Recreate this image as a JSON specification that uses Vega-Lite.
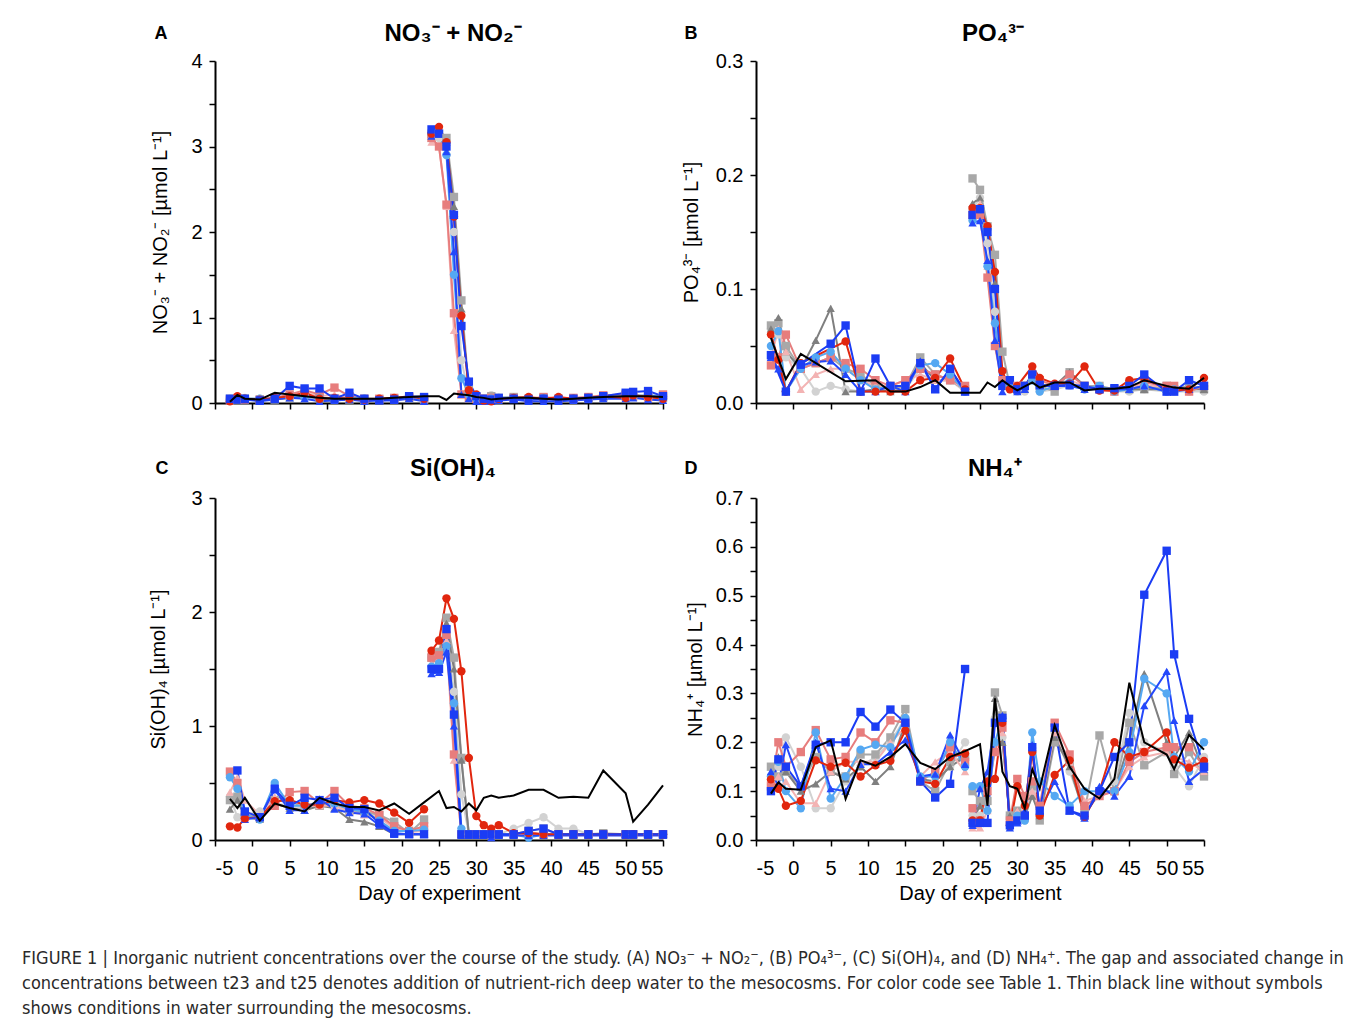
{
"$schema": "https://vega.github.io/schema/vega-lite/v6.json",
"background": "white",
"padding": {"left": 22, "top": 22, "right": 10, "bottom": 8},
"config": {
  "font": "Liberation Sans",
  "view": {"stroke": null},
  "axis": {"domainColor": "black", "domainWidth": 2, "tickColor": "black", "tickWidth": 1.5, "tickSize": 6, "labelFont": "Liberation Sans", "labelFontSize": 20, "labelColor": "black", "titleFont": "Liberation Sans", "titleFontSize": 20, "titleFontWeight": "normal", "titleColor": "black", "grid": false, "labelPadding": 7},
  "title": {"font": "Liberation Sans", "fontSize": 24, "fontWeight": "bold", "color": "black"}
},
"title": {"text": ["FIGURE 1 | Inorganic nutrient concentrations over the course of the study. (A) NO₃⁻ + NO₂⁻, (B) PO₄³⁻, (C) Si(OH)₄, and (D) NH₄⁺. The gap and associated change in", "concentrations between t23 and t25 denotes addition of nutrient-rich deep water to the mesocosms. For color code see Table 1. Thin black line without symbols", "shows conditions in water surrounding the mesocosms."], "orient": "bottom", "anchor": "start", "frame": "group", "dx": -193, "offset": 47, "font": "DejaVu Sans Condensed, sans-serif", "fontSize": 18, "fontWeight": "normal", "lineHeight": 25, "color": "#2a2a2a"},
"data": {"values": [
{"p":"A","d":-3,"ph":1,"LG":0.05,"G":0.05,"DG":0.04,"PK":0.04,"SA":0.03,"LB":0.04,"BT":0.03,"R":0.02,"B":0.05,"S":0.015},
{"p":"A","d":-2,"ph":1,"LG":0.05,"G":0.04,"DG":0.04,"PK":0.05,"SA":0.05,"LB":0.06,"BT":0.05,"R":0.08,"B":0.04,"S":0.094},
{"p":"A","d":-1,"ph":1,"LG":0.06,"G":0.05,"DG":0.04,"PK":0.04,"SA":0.04,"LB":0.05,"BT":0.04,"R":0.05,"B":0.05,"S":0.05},
{"p":"A","d":1,"ph":1,"LG":0.05,"G":0.04,"DG":0.04,"PK":0.04,"SA":0.04,"LB":0.05,"BT":0.02,"R":0.04,"B":0.03,"S":0.04},
{"p":"A","d":3,"ph":1,"LG":0.05,"G":0.04,"DG":0.04,"PK":0.06,"SA":0.06,"LB":0.05,"BT":0.04,"R":0.06,"B":0.05,"S":0.12},
{"p":"A","d":5,"ph":1,"LG":0.1,"G":0.08,"DG":0.06,"PK":0.08,"SA":0.1,"LB":0.08,"BT":0.06,"R":0.08,"B":0.2,"S":0.1},
{"p":"A","d":7,"ph":1,"LG":0.08,"G":0.1,"DG":0.08,"PK":0.12,"SA":0.15,"LB":0.07,"BT":0.05,"R":0.12,"B":0.17,"S":0.08},
{"p":"A","d":9,"ph":1,"LG":0.06,"G":0.06,"DG":0.05,"PK":0.08,"SA":0.1,"LB":0.06,"BT":0.02,"R":0.05,"B":0.17,"S":0.06},
{"p":"A","d":11,"ph":1,"LG":0.05,"G":0.05,"DG":0.04,"PK":0.1,"SA":0.18,"LB":0.05,"BT":0.03,"R":0.06,"B":0.05,"S":0.05},
{"p":"A","d":13,"ph":1,"LG":0.05,"G":0.04,"DG":0.04,"PK":0.06,"SA":0.08,"LB":0.06,"BT":0.04,"R":0.05,"B":0.12,"S":0.05},
{"p":"A","d":15,"ph":1,"LG":0.05,"G":0.04,"DG":0.04,"PK":0.04,"SA":0.05,"LB":0.05,"BT":0.02,"R":0.04,"B":0.05,"S":0.05},
{"p":"A","d":17,"ph":1,"LG":0.05,"G":0.04,"DG":0.04,"PK":0.05,"SA":0.05,"LB":0.04,"BT":0.03,"R":0.05,"B":0.03,"S":0.05},
{"p":"A","d":19,"ph":1,"LG":0.05,"G":0.05,"DG":0.04,"PK":0.05,"SA":0.06,"LB":0.05,"BT":0.03,"R":0.06,"B":0.04,"S":0.06},
{"p":"A","d":21,"ph":1,"LG":0.06,"G":0.06,"DG":0.05,"PK":0.07,"SA":0.07,"LB":0.06,"BT":0.05,"R":0.08,"B":0.08,"S":0.07},
{"p":"A","d":23,"ph":1,"LG":0.05,"G":0.04,"DG":0.04,"PK":0.05,"SA":0.05,"LB":0.04,"BT":0.02,"R":0.05,"B":0.07,"S":0.08},
{"p":"A","d":24,"ph":2,"LG":3.1,"G":3.15,"DG":3.1,"PK":3.05,"SA":3.1,"LB":3.15,"BT":3.12,"R":3.15,"B":3.2,"S":null},
{"p":"A","d":25,"ph":2,"LG":3.1,"G":3.15,"DG":3.15,"PK":3.0,"SA":3.0,"LB":3.15,"BT":3.18,"R":3.23,"B":3.15,"S":0.08},
{"p":"A","d":26,"ph":2,"LG":2.9,"G":3.1,"DG":3.05,"PK":2.3,"SA":2.32,"LB":2.9,"BT":2.94,"R":3.05,"B":3.0,"S":0.035},
{"p":"A","d":27,"ph":2,"LG":2.0,"G":2.41,"DG":2.3,"PK":0.85,"SA":1.05,"LB":1.5,"BT":1.77,"R":2.18,"B":2.2,"S":0.11},
{"p":"A","d":28,"ph":2,"LG":0.5,"G":1.2,"DG":1.1,"PK":0.1,"SA":0.1,"LB":0.29,"BT":0.1,"R":1.02,"B":0.9,"S":0.1},
{"p":"A","d":29,"ph":2,"LG":0.1,"G":0.15,"DG":0.1,"PK":0.05,"SA":0.06,"LB":0.1,"BT":0.05,"R":0.15,"B":0.25,"S":0.09},
{"p":"A","d":30,"ph":2,"LG":0.06,"G":0.07,"DG":0.05,"PK":0.04,"SA":0.05,"LB":0.05,"BT":0.02,"R":0.1,"B":0.08,"S":0.07},
{"p":"A","d":31,"ph":2,"LG":0.05,"G":0.05,"DG":0.04,"PK":0.04,"SA":0.05,"LB":0.04,"BT":0.02,"R":0.03,"B":0.05,"S":0.06},
{"p":"A","d":32,"ph":2,"LG":0.09,"G":0.08,"DG":0.05,"PK":0.05,"SA":0.06,"LB":0.05,"BT":0.02,"R":0.02,"B":0.04,"S":0.04},
{"p":"A","d":33,"ph":2,"LG":0.06,"G":0.06,"DG":0.05,"PK":0.05,"SA":0.05,"LB":0.06,"BT":0.03,"R":0.05,"B":0.06,"S":0.05},
{"p":"A","d":35,"ph":2,"LG":0.06,"G":0.07,"DG":0.05,"PK":0.05,"SA":0.06,"LB":0.06,"BT":0.04,"R":0.06,"B":0.05,"S":0.06},
{"p":"A","d":37,"ph":2,"LG":0.05,"G":0.05,"DG":0.04,"PK":0.05,"SA":0.05,"LB":0.05,"BT":0.02,"R":0.07,"B":0.04,"S":0.06},
{"p":"A","d":39,"ph":2,"LG":0.06,"G":0.06,"DG":0.05,"PK":0.05,"SA":0.07,"LB":0.06,"BT":0.02,"R":0.05,"B":0.05,"S":0.05},
{"p":"A","d":41,"ph":2,"LG":0.05,"G":0.05,"DG":0.04,"PK":0.05,"SA":0.05,"LB":0.05,"BT":0.02,"R":0.07,"B":0.04,"S":0.04},
{"p":"A","d":43,"ph":2,"LG":0.05,"G":0.05,"DG":0.05,"PK":0.05,"SA":0.06,"LB":0.05,"BT":0.03,"R":0.05,"B":0.05,"S":0.05},
{"p":"A","d":45,"ph":2,"LG":0.06,"G":0.06,"DG":0.05,"PK":0.06,"SA":0.07,"LB":0.06,"BT":0.04,"R":0.06,"B":0.06,"S":0.06},
{"p":"A","d":47,"ph":2,"LG":0.07,"G":0.07,"DG":0.06,"PK":0.07,"SA":0.09,"LB":0.07,"BT":0.05,"R":0.08,"B":0.08,"S":0.07},
{"p":"A","d":50,"ph":2,"LG":0.07,"G":0.09,"DG":0.07,"PK":0.07,"SA":0.1,"LB":0.08,"BT":0.05,"R":0.06,"B":0.12,"S":0.08},
{"p":"A","d":51,"ph":2,"LG":0.08,"G":0.1,"DG":0.07,"PK":0.07,"SA":0.08,"LB":0.08,"BT":0.06,"R":0.09,"B":0.13,"S":0.08},
{"p":"A","d":53,"ph":2,"LG":0.07,"G":0.08,"DG":0.06,"PK":0.06,"SA":0.07,"LB":0.09,"BT":0.04,"R":0.07,"B":0.14,"S":0.08},
{"p":"A","d":55,"ph":2,"LG":0.06,"G":0.06,"DG":0.05,"PK":0.06,"SA":0.1,"LB":0.08,"BT":0.03,"R":0.05,"B":0.08,"S":0.07},
{"p":"B","d":-3,"ph":1,"LG":0.065,"G":0.068,"DG":0.065,"PK":0.04,"SA":0.033,"LB":0.05,"BT":0.04,"R":0.06,"B":0.042,"S":0.057},
{"p":"B","d":-2,"ph":1,"LG":0.06,"G":0.07,"DG":0.075,"PK":0.065,"SA":0.04,"LB":0.063,"BT":0.03,"R":0.038,"B":null,"S":null},
{"p":"B","d":-1,"ph":1,"LG":0.04,"G":0.05,"DG":0.045,"PK":0.045,"SA":0.06,"LB":0.01,"BT":0.01,"R":0.01,"B":0.01,"S":0.021},
{"p":"B","d":1,"ph":1,"LG":0.03,"G":0.03,"DG":0.03,"PK":0.012,"SA":0.03,"LB":0.03,"BT":0.033,"R":0.035,"B":0.034,"S":0.043},
{"p":"B","d":3,"ph":1,"LG":0.01,"G":0.035,"DG":0.055,"PK":0.025,"SA":0.035,"LB":0.04,"BT":0.036,"R":null,"B":null,"S":null},
{"p":"B","d":5,"ph":1,"LG":0.015,"G":0.04,"DG":0.083,"PK":0.03,"SA":0.04,"LB":0.045,"BT":0.037,"R":null,"B":0.052,"S":null},
{"p":"B","d":7,"ph":1,"LG":0.012,"G":0.03,"DG":0.01,"PK":0.03,"SA":0.035,"LB":0.03,"BT":0.025,"R":0.054,"B":0.068,"S":0.019},
{"p":"B","d":9,"ph":1,"LG":0.01,"G":0.025,"DG":0.01,"PK":0.02,"SA":0.03,"LB":0.02,"BT":0.01,"R":0.01,"B":0.01,"S":null},
{"p":"B","d":11,"ph":1,"LG":0.012,"G":0.015,"DG":0.012,"PK":0.015,"SA":0.02,"LB":0.012,"BT":0.01,"R":0.01,"B":0.039,"S":0.02},
{"p":"B","d":13,"ph":1,"LG":0.012,"G":0.012,"DG":0.01,"PK":0.015,"SA":0.015,"LB":0.015,"BT":0.015,"R":0.01,"B":0.015,"S":0.01},
{"p":"B","d":15,"ph":1,"LG":0.012,"G":0.015,"DG":0.012,"PK":0.02,"SA":0.02,"LB":0.015,"BT":0.01,"R":0.01,"B":0.015,"S":0.01},
{"p":"B","d":17,"ph":1,"LG":0.03,"G":0.04,"DG":0.035,"PK":0.025,"SA":0.03,"LB":0.033,"BT":0.037,"R":0.02,"B":0.035,"S":0.014},
{"p":"B","d":19,"ph":1,"LG":0.025,"G":0.025,"DG":0.02,"PK":0.02,"SA":0.025,"LB":0.035,"BT":0.012,"R":0.022,"B":0.012,"S":0.02},
{"p":"B","d":21,"ph":1,"LG":0.02,"G":0.02,"DG":0.02,"PK":0.02,"SA":0.02,"LB":0.025,"BT":0.03,"R":0.039,"B":0.03,"S":0.009},
{"p":"B","d":23,"ph":1,"LG":0.01,"G":0.012,"DG":0.012,"PK":0.012,"SA":0.015,"LB":0.01,"BT":0.01,"R":0.012,"B":0.01,"S":0.009},
{"p":"B","d":24,"ph":2,"LG":0.17,"G":0.197,"DG":0.175,"PK":0.17,"SA":0.165,"LB":0.16,"BT":0.158,"R":0.171,"B":0.165,"S":null},
{"p":"B","d":25,"ph":2,"LG":0.18,"G":0.187,"DG":0.18,"PK":0.175,"SA":0.165,"LB":0.17,"BT":0.16,"R":0.171,"B":0.17,"S":0.009},
{"p":"B","d":26,"ph":2,"LG":0.14,"G":0.155,"DG":0.15,"PK":0.12,"SA":0.11,"LB":0.12,"BT":0.125,"R":0.155,"B":0.15,"S":0.018},
{"p":"B","d":27,"ph":2,"LG":0.08,"G":0.13,"DG":0.105,"PK":0.05,"SA":0.05,"LB":0.07,"BT":0.055,"R":0.115,"B":0.1,"S":0.014},
{"p":"B","d":28,"ph":2,"LG":0.015,"G":0.045,"DG":0.02,"PK":0.015,"SA":0.02,"LB":0.015,"BT":0.01,"R":0.028,"B":0.015,"S":0.02},
{"p":"B","d":29,"ph":2,"LG":0.012,"G":0.015,"DG":0.015,"PK":0.02,"SA":0.015,"LB":0.015,"BT":0.02,"R":0.012,"B":0.02,"S":0.015},
{"p":"B","d":30,"ph":2,"LG":0.01,"G":0.012,"DG":0.012,"PK":0.015,"SA":0.015,"LB":0.012,"BT":0.01,"R":0.015,"B":0.012,"S":0.011},
{"p":"B","d":31,"ph":2,"LG":0.01,"G":0.015,"DG":0.012,"PK":0.015,"SA":0.015,"LB":0.015,"BT":0.012,"R":null,"B":0.015,"S":null},
{"p":"B","d":32,"ph":2,"LG":0.025,"G":0.02,"DG":0.02,"PK":0.02,"SA":0.025,"LB":0.02,"BT":0.025,"R":0.032,"B":0.025,"S":0.018},
{"p":"B","d":33,"ph":2,"LG":0.01,"G":0.015,"DG":0.015,"PK":0.015,"SA":0.02,"LB":0.01,"BT":0.015,"R":0.022,"B":0.016,"S":0.0135},
{"p":"B","d":35,"ph":2,"LG":0.012,"G":0.01,"DG":0.015,"PK":0.015,"SA":0.015,"LB":0.015,"BT":0.015,"R":0.017,"B":0.015,"S":0.018},
{"p":"B","d":37,"ph":2,"LG":0.015,"G":0.027,"DG":0.027,"PK":0.02,"SA":0.025,"LB":0.018,"BT":0.015,"R":0.017,"B":0.016,"S":0.018},
{"p":"B","d":39,"ph":2,"LG":0.012,"G":0.015,"DG":0.015,"PK":0.015,"SA":0.015,"LB":0.012,"BT":0.012,"R":0.032,"B":0.015,"S":0.011},
{"p":"B","d":41,"ph":2,"LG":0.012,"G":0.015,"DG":0.012,"PK":0.012,"SA":0.012,"LB":0.015,"BT":0.012,"R":0.011,"B":0.012,"S":0.0125},
{"p":"B","d":43,"ph":2,"LG":0.01,"G":0.012,"DG":0.012,"PK":0.012,"SA":0.01,"LB":0.01,"BT":0.012,"R":0.011,"B":0.013,"S":0.0125},
{"p":"B","d":45,"ph":2,"LG":0.01,"G":0.012,"DG":0.012,"PK":0.015,"SA":0.015,"LB":0.012,"BT":0.012,"R":0.02,"B":0.015,"S":0.014},
{"p":"B","d":47,"ph":2,"LG":0.012,"G":0.012,"DG":0.012,"PK":0.015,"SA":0.018,"LB":0.015,"BT":0.015,"R":0.022,"B":0.025,"S":0.02},
{"p":"B","d":50,"ph":2,"LG":0.01,"G":0.015,"DG":0.012,"PK":0.015,"SA":0.015,"LB":0.01,"BT":0.01,"R":0.012,"B":0.01,"S":0.015},
{"p":"B","d":51,"ph":2,"LG":0.01,"G":0.012,"DG":0.012,"PK":0.012,"SA":0.015,"LB":0.012,"BT":0.01,"R":0.011,"B":0.01,"S":0.0135},
{"p":"B","d":53,"ph":2,"LG":0.01,"G":0.015,"DG":0.012,"PK":0.012,"SA":0.01,"LB":0.012,"BT":0.012,"R":0.012,"B":0.02,"S":0.0125},
{"p":"B","d":55,"ph":2,"LG":0.01,"G":0.012,"DG":0.012,"PK":0.015,"SA":0.015,"LB":0.015,"BT":0.015,"R":0.022,"B":0.015,"S":0.022},
{"p":"C","d":-3,"ph":1,"LG":0.38,"G":0.35,"DG":0.27,"PK":0.42,"SA":0.6,"LB":0.55,"BT":null,"R":0.12,"B":null,"S":0.36},
{"p":"C","d":-2,"ph":1,"LG":0.2,"G":0.38,"DG":0.35,"PK":0.55,"SA":0.5,"LB":0.45,"BT":null,"R":0.11,"B":0.61,"S":0.28},
{"p":"C","d":-1,"ph":1,"LG":0.22,"G":0.22,"DG":0.2,"PK":0.35,"SA":0.2,"LB":0.22,"BT":0.18,"R":0.19,"B":0.25,"S":0.37},
{"p":"C","d":1,"ph":1,"LG":0.25,"G":0.2,"DG":0.18,"PK":0.22,"SA":0.2,"LB":0.18,"BT":0.2,"R":0.2,"B":0.2,"S":0.17},
{"p":"C","d":3,"ph":1,"LG":0.32,"G":0.35,"DG":0.32,"PK":0.38,"SA":0.3,"LB":0.5,"BT":0.44,"R":0.34,"B":0.45,"S":0.32},
{"p":"C","d":5,"ph":1,"LG":0.3,"G":0.33,"DG":0.28,"PK":0.35,"SA":0.42,"LB":0.3,"BT":0.26,"R":0.35,"B":0.3,"S":0.28},
{"p":"C","d":7,"ph":1,"LG":0.28,"G":0.3,"DG":0.26,"PK":0.3,"SA":0.43,"LB":0.3,"BT":0.26,"R":0.31,"B":0.37,"S":0.25},
{"p":"C","d":9,"ph":1,"LG":0.3,"G":0.3,"DG":0.3,"PK":0.3,"SA":0.32,"LB":0.33,"BT":0.36,"R":0.31,"B":0.35,"S":0.37},
{"p":"C","d":11,"ph":1,"LG":0.3,"G":0.33,"DG":0.28,"PK":0.3,"SA":0.43,"LB":0.32,"BT":0.27,"R":0.35,"B":0.37,"S":0.32},
{"p":"C","d":13,"ph":1,"LG":0.25,"G":0.25,"DG":0.18,"PK":0.25,"SA":0.3,"LB":0.27,"BT":0.24,"R":0.33,"B":0.28,"S":0.29},
{"p":"C","d":15,"ph":1,"LG":0.25,"G":0.25,"DG":0.16,"PK":0.22,"SA":0.28,"LB":0.25,"BT":0.23,"R":0.35,"B":0.27,"S":0.29},
{"p":"C","d":17,"ph":1,"LG":0.2,"G":0.22,"DG":0.12,"PK":0.2,"SA":0.22,"LB":0.17,"BT":0.13,"R":0.32,"B":0.15,"S":0.26},
{"p":"C","d":19,"ph":1,"LG":0.12,"G":0.16,"DG":0.05,"PK":0.1,"SA":0.12,"LB":0.08,"BT":0.05,"R":0.24,"B":0.06,"S":0.32},
{"p":"C","d":21,"ph":1,"LG":0.08,"G":0.06,"DG":0.05,"PK":0.07,"SA":0.08,"LB":0.08,"BT":0.05,"R":0.15,"B":0.05,"S":0.23},
{"p":"C","d":23,"ph":1,"LG":0.12,"G":0.18,"DG":0.05,"PK":0.08,"SA":0.12,"LB":0.09,"BT":0.05,"R":0.27,"B":0.05,"S":0.33},
{"p":"C","d":24,"ph":2,"LG":1.6,"G":1.6,"DG":1.55,"PK":1.55,"SA":1.6,"LB":1.52,"BT":1.46,"R":1.66,"B":1.5,"S":null},
{"p":"C","d":25,"ph":2,"LG":1.62,"G":1.65,"DG":1.6,"PK":1.6,"SA":1.62,"LB":1.55,"BT":1.47,"R":1.75,"B":1.5,"S":0.43},
{"p":"C","d":26,"ph":2,"LG":1.85,"G":1.95,"DG":1.9,"PK":1.75,"SA":1.8,"LB":1.7,"BT":1.65,"R":2.12,"B":1.85,"S":0.28},
{"p":"C","d":27,"ph":2,"LG":1.3,"G":1.6,"DG":1.5,"PK":0.7,"SA":0.75,"LB":1.2,"BT":1.0,"R":1.94,"B":1.1,"S":0.29},
{"p":"C","d":28,"ph":2,"LG":0.4,"G":0.72,"DG":0.7,"PK":0.05,"SA":0.05,"LB":0.1,"BT":0.04,"R":1.48,"B":0.05,"S":0.25},
{"p":"C","d":29,"ph":2,"LG":0.05,"G":0.05,"DG":0.05,"PK":0.05,"SA":0.05,"LB":0.05,"BT":0.04,"R":0.72,"B":0.05,"S":0.32},
{"p":"C","d":30,"ph":2,"LG":0.05,"G":0.05,"DG":0.05,"PK":0.05,"SA":0.05,"LB":0.05,"BT":0.04,"R":0.21,"B":0.05,"S":0.26},
{"p":"C","d":31,"ph":2,"LG":0.05,"G":0.05,"DG":0.05,"PK":0.05,"SA":0.05,"LB":0.05,"BT":0.04,"R":0.13,"B":0.05,"S":0.37},
{"p":"C","d":32,"ph":2,"LG":0.05,"G":0.05,"DG":0.05,"PK":0.05,"SA":0.05,"LB":0.05,"BT":0.02,"R":0.1,"B":0.05,"S":0.39},
{"p":"C","d":33,"ph":2,"LG":0.05,"G":0.05,"DG":0.05,"PK":0.05,"SA":0.05,"LB":0.05,"BT":0.04,"R":0.13,"B":0.05,"S":0.37},
{"p":"C","d":35,"ph":2,"LG":0.1,"G":0.05,"DG":0.05,"PK":0.05,"SA":0.05,"LB":0.05,"BT":0.04,"R":0.06,"B":0.05,"S":0.39},
{"p":"C","d":37,"ph":2,"LG":0.15,"G":0.08,"DG":0.05,"PK":0.05,"SA":0.07,"LB":0.02,"BT":0.04,"R":0.06,"B":0.08,"S":0.44},
{"p":"C","d":39,"ph":2,"LG":0.2,"G":0.1,"DG":0.05,"PK":0.05,"SA":0.05,"LB":0.05,"BT":0.04,"R":0.05,"B":0.1,"S":0.44},
{"p":"C","d":41,"ph":2,"LG":0.1,"G":0.05,"DG":0.05,"PK":0.05,"SA":0.05,"LB":0.05,"BT":0.04,"R":0.05,"B":0.05,"S":0.37},
{"p":"C","d":43,"ph":2,"LG":0.1,"G":0.05,"DG":0.05,"PK":0.05,"SA":0.05,"LB":0.05,"BT":0.04,"R":0.05,"B":0.05,"S":0.38},
{"p":"C","d":45,"ph":2,"LG":0.05,"G":0.05,"DG":0.05,"PK":0.05,"SA":0.05,"LB":0.05,"BT":0.04,"R":0.05,"B":0.05,"S":0.37},
{"p":"C","d":47,"ph":2,"LG":0.05,"G":0.06,"DG":0.05,"PK":0.05,"SA":0.05,"LB":0.05,"BT":0.04,"R":0.05,"B":0.05,"S":0.61},
{"p":"C","d":50,"ph":2,"LG":0.05,"G":0.05,"DG":0.05,"PK":0.05,"SA":0.05,"LB":0.05,"BT":0.04,"R":0.05,"B":0.05,"S":0.41},
{"p":"C","d":51,"ph":2,"LG":0.05,"G":0.05,"DG":0.05,"PK":0.05,"SA":0.05,"LB":0.05,"BT":0.04,"R":0.05,"B":0.05,"S":0.16},
{"p":"C","d":53,"ph":2,"LG":0.05,"G":0.05,"DG":0.05,"PK":0.05,"SA":0.05,"LB":0.05,"BT":0.04,"R":0.05,"B":0.05,"S":0.31},
{"p":"C","d":55,"ph":2,"LG":0.05,"G":0.05,"DG":0.05,"PK":0.05,"SA":0.05,"LB":0.05,"BT":0.04,"R":0.05,"B":0.05,"S":0.48},
{"p":"D","d":-3,"ph":1,"LG":0.12,"G":0.15,"DG":0.13,"PK":0.12,"SA":0.11,"LB":0.13,"BT":0.14,"R":0.124,"B":0.1,"S":0.095},
{"p":"D","d":-2,"ph":1,"LG":0.15,"G":0.13,"DG":0.17,"PK":0.13,"SA":0.2,"LB":0.16,"BT":0.11,"R":0.105,"B":0.165,"S":0.118},
{"p":"D","d":-1,"ph":1,"LG":0.21,"G":0.14,"DG":0.14,"PK":0.12,"SA":0.15,"LB":0.1,"BT":0.195,"R":0.07,"B":0.15,"S":0.105},
{"p":"D","d":1,"ph":1,"LG":0.15,"G":0.11,"DG":0.1,"PK":0.075,"SA":0.18,"LB":0.065,"BT":0.11,"R":0.08,"B":0.11,"S":0.103},
{"p":"D","d":3,"ph":1,"LG":0.065,"G":0.17,"DG":0.115,"PK":0.075,"SA":0.225,"LB":0.22,"BT":0.2,"R":0.163,"B":0.195,"S":0.19},
{"p":"D","d":5,"ph":1,"LG":0.065,"G":0.14,"DG":0.14,"PK":0.14,"SA":0.165,"LB":0.085,"BT":0.105,"R":0.15,"B":0.2,"S":0.204},
{"p":"D","d":7,"ph":1,"LG":0.12,"G":0.13,"DG":0.125,"PK":0.16,"SA":0.17,"LB":0.13,"BT":0.1,"R":0.158,"B":0.2,"S":0.084},
{"p":"D","d":9,"ph":1,"LG":0.15,"G":0.175,"DG":0.15,"PK":0.16,"SA":0.22,"LB":0.185,"BT":0.155,"R":0.13,"B":0.262,"S":0.163},
{"p":"D","d":11,"ph":1,"LG":0.17,"G":0.175,"DG":0.12,"PK":0.16,"SA":0.2,"LB":0.195,"BT":0.155,"R":0.153,"B":0.232,"S":0.152},
{"p":"D","d":13,"ph":1,"LG":0.2,"G":0.21,"DG":0.15,"PK":0.2,"SA":0.245,"LB":0.19,"BT":0.18,"R":0.162,"B":0.267,"S":0.17},
{"p":"D","d":15,"ph":1,"LG":0.25,"G":0.268,"DG":0.24,"PK":0.23,"SA":0.24,"LB":0.25,"BT":0.205,"R":0.224,"B":0.24,"S":0.196},
{"p":"D","d":17,"ph":1,"LG":0.12,"G":0.12,"DG":0.125,"PK":0.13,"SA":0.12,"LB":0.13,"BT":0.13,"R":0.12,"B":0.12,"S":0.158},
{"p":"D","d":19,"ph":1,"LG":0.12,"G":0.1,"DG":0.12,"PK":0.16,"SA":0.14,"LB":0.13,"BT":0.135,"R":0.115,"B":0.087,"S":0.145},
{"p":"D","d":21,"ph":1,"LG":0.15,"G":0.16,"DG":0.15,"PK":0.18,"SA":0.19,"LB":0.2,"BT":0.215,"R":0.17,"B":0.115,"S":0.17},
{"p":"D","d":23,"ph":1,"LG":0.2,"G":0.17,"DG":0.17,"PK":0.14,"SA":0.16,"LB":0.15,"BT":0.155,"R":0.177,"B":0.35,"S":0.182},
{"p":"D","d":24,"ph":2,"LG":0.05,"G":0.1,"DG":0.04,"PK":0.025,"SA":0.065,"LB":0.11,"BT":0.03,"R":0.04,"B":0.035,"S":null},
{"p":"D","d":25,"ph":2,"LG":0.05,"G":0.08,"DG":0.07,"PK":0.025,"SA":0.04,"LB":0.11,"BT":0.105,"R":0.04,"B":0.035,"S":0.196},
{"p":"D","d":26,"ph":2,"LG":0.06,"G":0.08,"DG":0.1,"PK":0.06,"SA":0.1,"LB":0.06,"BT":0.14,"R":0.12,"B":0.035,"S":0.07},
{"p":"D","d":27,"ph":2,"LG":0.25,"G":0.302,"DG":0.29,"PK":0.2,"SA":0.18,"LB":0.2,"BT":0.24,"R":0.125,"B":0.24,"S":0.29},
{"p":"D","d":28,"ph":2,"LG":0.21,"G":0.255,"DG":0.2,"PK":0.22,"SA":0.23,"LB":0.25,"BT":0.255,"R":0.24,"B":0.25,"S":0.14},
{"p":"D","d":29,"ph":2,"LG":0.05,"G":0.05,"DG":0.05,"PK":0.04,"SA":0.04,"LB":0.03,"BT":0.025,"R":0.03,"B":0.03,"S":0.11},
{"p":"D","d":30,"ph":2,"LG":0.05,"G":0.06,"DG":0.06,"PK":0.06,"SA":0.125,"LB":0.05,"BT":0.035,"R":0.11,"B":0.04,"S":0.105},
{"p":"D","d":31,"ph":2,"LG":0.04,"G":0.05,"DG":0.05,"PK":0.06,"SA":0.09,"LB":0.04,"BT":0.06,"R":0.07,"B":0.05,"S":0.065},
{"p":"D","d":32,"ph":2,"LG":0.1,"G":0.11,"DG":0.09,"PK":0.1,"SA":0.12,"LB":0.22,"BT":0.195,"R":0.18,"B":0.19,"S":0.145},
{"p":"D","d":33,"ph":2,"LG":0.05,"G":0.04,"DG":0.05,"PK":0.06,"SA":0.07,"LB":0.12,"BT":0.06,"R":0.05,"B":0.06,"S":0.105},
{"p":"D","d":35,"ph":2,"LG":0.22,"G":0.2,"DG":0.21,"PK":0.22,"SA":0.24,"LB":0.09,"BT":0.12,"R":0.133,"B":0.23,"S":0.235},
{"p":"D","d":37,"ph":2,"LG":0.14,"G":0.16,"DG":0.15,"PK":0.16,"SA":0.175,"LB":0.07,"BT":0.06,"R":0.163,"B":0.06,"S":0.15},
{"p":"D","d":39,"ph":2,"LG":0.06,"G":0.06,"DG":0.05,"PK":0.08,"SA":0.07,"LB":0.1,"BT":0.045,"R":0.048,"B":0.05,"S":0.105},
{"p":"D","d":41,"ph":2,"LG":0.09,"G":0.214,"DG":0.1,"PK":0.09,"SA":0.09,"LB":0.1,"BT":0.11,"R":0.1,"B":0.1,"S":0.085},
{"p":"D","d":43,"ph":2,"LG":0.12,"G":0.1,"DG":0.1,"PK":0.1,"SA":0.1,"LB":0.1,"BT":0.09,"R":0.2,"B":0.17,"S":0.125},
{"p":"D","d":45,"ph":2,"LG":0.26,"G":0.24,"DG":0.2,"PK":0.15,"SA":0.16,"LB":0.18,"BT":0.13,"R":0.17,"B":0.2,"S":0.322},
{"p":"D","d":47,"ph":2,"LG":0.2,"G":0.153,"DG":0.34,"PK":0.17,"SA":0.18,"LB":0.33,"BT":0.275,"R":0.18,"B":0.502,"S":0.2},
{"p":"D","d":50,"ph":2,"LG":0.18,"G":0.18,"DG":0.2,"PK":0.18,"SA":0.19,"LB":0.3,"BT":0.345,"R":0.22,"B":0.592,"S":0.175},
{"p":"D","d":51,"ph":2,"LG":0.15,"G":0.135,"DG":0.17,"PK":0.17,"SA":0.19,"LB":0.17,"BT":0.245,"R":0.165,"B":0.38,"S":0.145},
{"p":"D","d":53,"ph":2,"LG":0.11,"G":0.18,"DG":0.22,"PK":0.16,"SA":0.19,"LB":0.14,"BT":0.12,"R":0.148,"B":0.248,"S":0.215},
{"p":"D","d":55,"ph":2,"LG":0.17,"G":0.13,"DG":0.14,"PK":0.14,"SA":0.15,"LB":0.2,"BT":0.145,"R":0.162,"B":0.15,"S":0.185}
]},
"columns": 2,
"spacing": {"row": 95, "column": 93},
"bounds": "flush",
"concat": [
{"width": 448, "height": 342,
 "title": {"text": "NO₃⁻ + NO₂⁻", "offset": -22, "dx": 14},
 "transform": [{"filter": "datum.p === 'A'"}],
 "encoding": {
  "y": {"field": "v", "type": "quantitative", "scale": {"domain": [0, 4], "nice": false}, "axis": {"values": [0,0.5,1,1.5,2,2.5,3,3.5,4], "labelExpr": "datum.value % 1 == 0 ? format(datum.value, 'd') : ''", "title": "NO₃⁻ + NO₂⁻ [µmol L⁻¹]", "titlePadding": 20}}
 },
 "resolve": {"axis": {"x": "independent"}},
 "layer": [
  {"transform": [{"fold": ["LG","G","DG","PK","SA","LB","BT","R","B"], "as": ["m", "v"]}, {"filter": "datum.v != null"}],
   "mark": {"type": "line", "strokeWidth": 2},
   "encoding": {"x": {"field": "d", "type": "quantitative", "scale": {"domain": [-5, 55], "nice": false, "zero": false}, "axis": {"values": [-5,0,5,10,15,20,25,30,35,40,45,50,55], "labels": false, "title": null}},
    "color": {"field": "m", "type": "nominal", "scale": {"domain": ["LG","G","DG","PK","SA","LB","BT","R","B"], "range": ["#d2d2d2","#a8a8a8","#7f7f7f","#f3b3b3","#e77d7d","#55a8f2","#2448fb","#e1260e","#1b3cf4"]}, "legend": null}, "detail": {"field": "ph"}}},
  {"transform": [{"fold": ["LG","G","DG","PK","SA","LB","BT","R","B"], "as": ["m", "v"]}, {"filter": "datum.v != null"}],
   "mark": {"type": "point", "filled": true, "opacity": 1, "size": 70},
   "encoding": {"x": {"field": "d", "type": "quantitative", "scale": {"domain": [-5, 55], "nice": false, "zero": false}, "axis": null},
    "color": {"field": "m", "type": "nominal", "legend": null}, "shape": {"field": "m", "type": "nominal", "scale": {"domain": ["LG","G","DG","PK","SA","LB","BT","R","B"], "range": ["circle","square","triangle-up","triangle-up","square","circle","triangle-up","circle","square"]}, "legend": null}}},
  {"transform": [{"fold": ["S"], "as": ["m", "v"]}, {"filter": "datum.v != null"}],
   "mark": {"type": "line", "color": "black", "strokeWidth": 2},
   "encoding": {"x": {"field": "d", "type": "quantitative", "scale": {"domain": [-5, 55], "nice": false, "zero": false}, "axis": {"orient": "top", "domain": false, "ticks": false, "labels": false, "title": "A", "titleAnchor": "start", "titleAlign": "left", "titleBaseline": "middle", "titleX": -61, "titleY": -28, "titleFontWeight": "bold", "titleFontSize": 18}}}}
 ]},
{"width": 448, "height": 342,
 "title": {"text": "PO₄³⁻", "offset": -22, "dx": 13},
 "transform": [{"filter": "datum.p === 'B'"}],
 "encoding": {
  "y": {"field": "v", "type": "quantitative", "scale": {"domain": [0, 0.3], "nice": false}, "axis": {"values": [0,0.05,0.1,0.15,0.2,0.25,0.3], "labelExpr": "round(datum.value * 100) % 10 == 0 ? format(datum.value, '.1f') : ''", "title": "PO₄³⁻ [µmol L⁻¹]", "titlePadding": 14}}
 },
 "resolve": {"axis": {"x": "independent"}},
 "layer": [
  {"transform": [{"fold": ["LG","G","DG","PK","SA","LB","BT","R","B"], "as": ["m", "v"]}, {"filter": "datum.v != null"}],
   "mark": {"type": "line", "strokeWidth": 2},
   "encoding": {"x": {"field": "d", "type": "quantitative", "scale": {"domain": [-5, 55], "nice": false, "zero": false}, "axis": {"values": [-5,0,5,10,15,20,25,30,35,40,45,50,55], "labels": false, "title": null}},
    "color": {"field": "m", "type": "nominal", "legend": null}, "detail": {"field": "ph"}}},
  {"transform": [{"fold": ["LG","G","DG","PK","SA","LB","BT","R","B"], "as": ["m", "v"]}, {"filter": "datum.v != null"}],
   "mark": {"type": "point", "filled": true, "opacity": 1, "size": 70},
   "encoding": {"x": {"field": "d", "type": "quantitative", "scale": {"domain": [-5, 55], "nice": false, "zero": false}, "axis": null},
    "color": {"field": "m", "type": "nominal", "legend": null}, "shape": {"field": "m", "type": "nominal", "legend": null}}},
  {"transform": [{"fold": ["S"], "as": ["m", "v"]}, {"filter": "datum.v != null"}],
   "mark": {"type": "line", "color": "black", "strokeWidth": 2},
   "encoding": {"x": {"field": "d", "type": "quantitative", "scale": {"domain": [-5, 55], "nice": false, "zero": false}, "axis": {"orient": "top", "domain": false, "ticks": false, "labels": false, "title": "B", "titleAnchor": "start", "titleAlign": "left", "titleBaseline": "middle", "titleX": -72, "titleY": -28, "titleFontWeight": "bold", "titleFontSize": 18}}}}
 ]},
{"width": 448, "height": 342,
 "title": {"text": "Si(OH)₄", "offset": -22, "dx": 14},
 "transform": [{"filter": "datum.p === 'C'"}],
 "encoding": {
  "y": {"field": "v", "type": "quantitative", "scale": {"domain": [0, 3], "nice": false}, "axis": {"values": [0,0.5,1,1.5,2,2.5,3], "labelExpr": "datum.value % 1 == 0 ? format(datum.value, 'd') : ''", "title": "Si(OH)₄ [µmol L⁻¹]", "titlePadding": 22}}
 },
 "resolve": {"axis": {"x": "independent"}},
 "layer": [
  {"transform": [{"fold": ["LG","G","DG","PK","SA","LB","BT","R","B"], "as": ["m", "v"]}, {"filter": "datum.v != null"}],
   "mark": {"type": "line", "strokeWidth": 2},
   "encoding": {"x": {"field": "d", "type": "quantitative", "scale": {"domain": [-5, 55], "nice": false, "zero": false}, "axis": {"values": [-5,0,5,10,15,20,25,30,35,40,45,50,55], "labelExpr": "datum.value < 0 ? '-' + abs(datum.value) : datum.label", "title": "Day of experiment", "labelPadding": 12, "titlePadding": 5}},
    "color": {"field": "m", "type": "nominal", "legend": null}, "detail": {"field": "ph"}}},
  {"transform": [{"fold": ["LG","G","DG","PK","SA","LB","BT","R","B"], "as": ["m", "v"]}, {"filter": "datum.v != null"}],
   "mark": {"type": "point", "filled": true, "opacity": 1, "size": 70},
   "encoding": {"x": {"field": "d", "type": "quantitative", "scale": {"domain": [-5, 55], "nice": false, "zero": false}, "axis": null},
    "color": {"field": "m", "type": "nominal", "legend": null}, "shape": {"field": "m", "type": "nominal", "legend": null}}},
  {"transform": [{"fold": ["S"], "as": ["m", "v"]}, {"filter": "datum.v != null"}],
   "mark": {"type": "line", "color": "black", "strokeWidth": 2},
   "encoding": {"x": {"field": "d", "type": "quantitative", "scale": {"domain": [-5, 55], "nice": false, "zero": false}, "axis": {"orient": "top", "domain": false, "ticks": false, "labels": false, "title": "C", "titleAnchor": "start", "titleAlign": "left", "titleBaseline": "middle", "titleX": -60, "titleY": -30, "titleFontWeight": "bold", "titleFontSize": 18}}}}
 ]},
{"width": 448, "height": 342,
 "title": {"text": "NH₄⁺", "offset": -22, "dx": 15},
 "transform": [{"filter": "datum.p === 'D'"}],
 "encoding": {
  "y": {"field": "v", "type": "quantitative", "scale": {"domain": [0, 0.7], "nice": false}, "axis": {"values": [0,0.05,0.1,0.15,0.2,0.25,0.3,0.35,0.4,0.45,0.5,0.55,0.6,0.65,0.7], "labelExpr": "round(datum.value * 100) % 10 == 0 ? format(datum.value, '.1f') : ''", "title": "NH₄⁺ [µmol L⁻¹]", "titlePadding": 10}}
 },
 "resolve": {"axis": {"x": "independent"}},
 "layer": [
  {"transform": [{"fold": ["LG","G","DG","PK","SA","LB","BT","R","B"], "as": ["m", "v"]}, {"filter": "datum.v != null"}],
   "mark": {"type": "line", "strokeWidth": 2},
   "encoding": {"x": {"field": "d", "type": "quantitative", "scale": {"domain": [-5, 55], "nice": false, "zero": false}, "axis": {"values": [-5,0,5,10,15,20,25,30,35,40,45,50,55], "labelExpr": "datum.value < 0 ? '-' + abs(datum.value) : datum.label", "title": "Day of experiment", "labelPadding": 12, "titlePadding": 5}},
    "color": {"field": "m", "type": "nominal", "legend": null}, "detail": {"field": "ph"}}},
  {"transform": [{"fold": ["LG","G","DG","PK","SA","LB","BT","R","B"], "as": ["m", "v"]}, {"filter": "datum.v != null"}],
   "mark": {"type": "point", "filled": true, "opacity": 1, "size": 70},
   "encoding": {"x": {"field": "d", "type": "quantitative", "scale": {"domain": [-5, 55], "nice": false, "zero": false}, "axis": null},
    "color": {"field": "m", "type": "nominal", "legend": null}, "shape": {"field": "m", "type": "nominal", "legend": null}}},
  {"transform": [{"fold": ["S"], "as": ["m", "v"]}, {"filter": "datum.v != null"}],
   "mark": {"type": "line", "color": "black", "strokeWidth": 2},
   "encoding": {"x": {"field": "d", "type": "quantitative", "scale": {"domain": [-5, 55], "nice": false, "zero": false}, "axis": {"orient": "top", "domain": false, "ticks": false, "labels": false, "title": "D", "titleAnchor": "start", "titleAlign": "left", "titleBaseline": "middle", "titleX": -72, "titleY": -30, "titleFontWeight": "bold", "titleFontSize": 18}}}}
 ]}
]
}
